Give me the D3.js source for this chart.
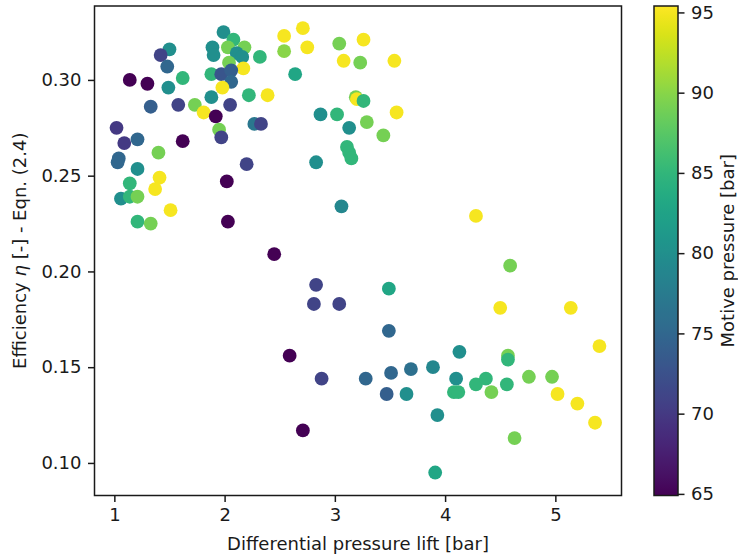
<!DOCTYPE html>
<html><head><meta charset="utf-8">
<script src="https://cdn.jsdelivr.net/npm/d3@7"></script>
<style>body{margin:0;background:#fff}svg{display:block;font-family:"DejaVu Sans",sans-serif}</style>
</head><body><svg id="chart" width="738" height="559"></svg>
<script>
const liftBar = [1.99,2.08,2.18,2.03,1.89,1.90,2.11,2.16,2.32,2.54,2.54,1.50,1.42,1.48,2.04,2.17,1.88,1.97,2.06,2.06,
1.98,1.14,1.30,1.62,1.49,1.88,2.22,2.39,1.33,1.58,1.73,1.81,2.05,1.92,2.27,2.33,1.02,1.09,1.21,1.62,
1.95,1.97,1.40,1.04,1.03,1.21,2.20,1.41,1.37,1.14,1.06,1.14,1.21,1.51,1.21,1.33,2.02,2.03,2.45,2.71,
2.75,3.04,3.26,3.08,3.23,3.54,2.64,3.19,3.20,3.26,2.87,3.02,3.13,3.29,3.56,3.44,3.11,3.13,3.15,2.83,
3.06,4.28,4.59,2.83,3.49,2.81,3.04,4.50,5.14,5.40,3.49,2.59,2.88,3.28,3.51,3.69,3.89,4.13,4.10,3.47,
3.65,4.08,4.12,4.28,4.37,4.42,4.57,4.57,4.56,4.76,4.97,5.02,5.20,5.36,3.93,4.63,2.71,3.91];
const efficiency = [0.325,0.321,0.317,0.317,0.317,0.313,0.314,0.312,0.312,0.323,0.315,0.316,0.313,0.307,0.309,0.306,0.303,0.303,0.305,0.299,
0.296,0.300,0.298,0.301,0.296,0.291,0.292,0.292,0.286,0.287,0.287,0.283,0.287,0.281,0.277,0.277,0.275,0.267,0.269,0.268,
0.274,0.270,0.262,0.259,0.257,0.2535,0.256,0.249,0.243,0.246,0.238,0.239,0.239,0.232,0.226,0.225,0.247,0.226,0.209,0.327,
0.317,0.319,0.321,0.310,0.309,0.310,0.303,0.291,0.290,0.289,0.282,0.282,0.275,0.278,0.283,0.271,0.265,0.262,0.259,0.257,
0.234,0.229,0.203,0.193,0.191,0.183,0.183,0.181,0.181,0.161,0.169,0.156,0.144,0.144,0.147,0.149,0.150,0.158,0.144,0.136,
0.136,0.137,0.137,0.141,0.144,0.137,0.156,0.154,0.141,0.145,0.145,0.136,0.131,0.121,0.125,0.113,0.117,0.095];
const motivePressure = [80,85,89,89,80,80,80,80,85,95,90,80,71,75,89,95,85,73,74,75,
95,65,65,85,80,80,85,95,74,71,89,95,71,65,77,71,70,70,75,65,
89,71,89,75,75,80,71,95,95,85,80,85,89,95,85,89,65,65,65,95,
95,89,95,95,89,95,83,89,95,85,80,85,80,89,95,89,85,85,85,80,
79,95,89,71,83,71,71,95,95,95,75,65,71,75,75,76,79,80,80,74,
80,85,85,85,85,89,89,85,85,89,89,95,95,95,80,89,65,83];
const xTicks = [1,2,3,4,5];
const yTicks = [0.10,0.15,0.20,0.25,0.30];
const cTicks = [65,70,75,80,85,90,95];
const xDomain = [0.82, 5.60];
const yDomain = [0.0830, 0.3386];
const cDomain = [64.9, 95.4];

const svg = d3.select("#chart");
const L = 94.5, R = 621.5, T = 6, B = 495.5;
const x = d3.scaleLinear().domain(xDomain).range([L, R]);
const y = d3.scaleLinear().domain(yDomain).range([B, T]);
const color = d3.scaleSequential(d3.interpolateViridis).domain(cDomain);
const FS = 18, TK = 6.5, PAD = 6.5, LW = 1.5, INK = "#1a1a1a";

// points
const pts = liftBar.map((d,i)=>({x:d, y:efficiency[i], v:motivePressure[i]}));
svg.append("g").selectAll("circle").data(pts).join("circle")
  .attr("cx", d=>x(d.x)).attr("cy", d=>y(d.y)).attr("r", 6.9)
  .attr("fill", d=>color(d.v));

// axes
const xAxis = d3.axisBottom(x).tickValues(xTicks).tickFormat(d3.format("d")).tickSize(TK).tickPadding(PAD);
const yAxis = d3.axisLeft(y).tickValues(yTicks).tickFormat(d3.format(".2f")).tickSize(TK).tickPadding(PAD);
const gx = svg.append("g").attr("transform", `translate(0,${B})`).call(xAxis);
const gy = svg.append("g").attr("transform", `translate(${L},0)`).call(yAxis);
[gx, gy].forEach(g=>{
  g.select(".domain").remove();
  g.selectAll("line").attr("stroke",INK).attr("stroke-width",LW);
  g.selectAll("text").attr("font-family","DejaVu Sans").attr("font-size",FS).attr("fill",INK);
});
svg.append("rect").attr("x",L).attr("y",T).attr("width",R-L).attr("height",B-T)
  .attr("fill","none").attr("stroke",INK).attr("stroke-width",LW);

// axis labels
svg.append("text").attr("x",(L+R)/2).attr("y",550).attr("text-anchor","middle")
  .attr("font-size",FS).attr("fill",INK).text("Differential pressure lift [bar]");
const yl = svg.append("text").attr("transform",`translate(26,${(T+B)/2}) rotate(-90)`)
  .attr("text-anchor","middle").attr("font-size",FS).attr("fill",INK);
yl.append("tspan").text("Efficiency ");
yl.append("tspan").attr("font-style","italic").text("η");
yl.append("tspan").text(" [-] - Eqn. (2.4)");

// colorbar
const CL = 654, CR = 678;
const defs = svg.append("defs");
const grad = defs.append("linearGradient").attr("id","vir").attr("x1","0").attr("y1","1").attr("x2","0").attr("y2","0");
d3.range(0,1.0001,0.02).forEach(t=>grad.append("stop").attr("offset",t)
  .attr("stop-color",color(cDomain[0]+t*(cDomain[1]-cDomain[0]))));
svg.append("rect").attr("x",CL).attr("y",T).attr("width",CR-CL).attr("height",B-T).attr("fill","url(#vir)");
const cy = d3.scaleLinear().domain(cDomain).range([B, T]);
const cAxis = d3.axisRight(cy).tickValues(cTicks).tickFormat(d3.format("d")).tickSize(TK).tickPadding(PAD);
const gc = svg.append("g").attr("transform",`translate(${CR},0)`).call(cAxis);
gc.select(".domain").remove();
gc.selectAll("line").attr("stroke",INK).attr("stroke-width",LW);
gc.selectAll("text").attr("font-family","DejaVu Sans").attr("font-size",FS).attr("fill",INK);
svg.append("rect").attr("x",CL).attr("y",T).attr("width",CR-CL).attr("height",B-T)
  .attr("fill","none").attr("stroke",INK).attr("stroke-width",LW);
svg.append("text").attr("transform",`translate(734,${(T+B)/2}) rotate(-90)`)
  .attr("text-anchor","middle").attr("font-size",FS).attr("fill",INK).text("Motive pressure [bar]");
</script></body></html>
